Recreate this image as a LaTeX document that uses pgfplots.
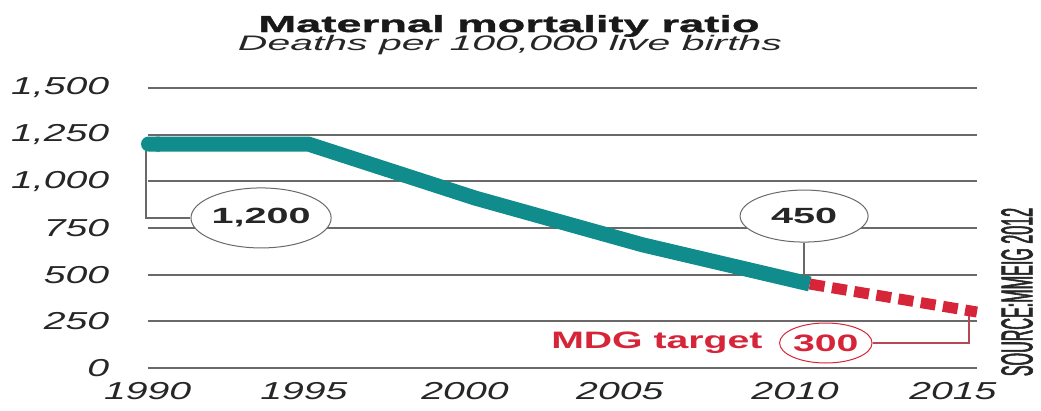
\documentclass[border=0pt]{standalone}
\usepackage{fontspec}
\usepackage{pgfplots}
\pgfplotsset{compat=1.18}
\usetikzlibrary{shapes.geometric,arrows.meta}
\setmainfont{Liberation Sans}
\newfontfamily\tickfont[FakeStretch=1.6]{Liberation Sans}
\newfontfamily\titlefont[FakeStretch=1.95, BoldFeatures={FakeBold=1.5}]{Liberation Sans}
\newfontfamily\notefont[FakeStretch=1.8]{Liberation Sans}
\newfontfamily\mdgfont[FakeStretch=1.65]{Liberation Sans}
\newfontfamily\srcfont[FakeStretch=0.36, FakeBold=1.2]{Liberation Sans}
\definecolor{teal1}{RGB}{16,140,140}
\definecolor{mdgred}{RGB}{214,36,56}
\definecolor{gridgray}{RGB}{105,105,105}

\begin{document}
\begin{tikzpicture}
\path[use as bounding box] (0,0) rectangle (416.4pt,-164pt);
\node[font=\titlefont\bfseries\fontsize{9.3}{10}\selectfont, anchor=base, text=black!90]
  at (203.6pt,-12.8pt) {Maternal mortality ratio};
\node[font=\titlefont\itshape\fontsize{8.4}{10}\selectfont, anchor=base, text=black!85]
  at (204pt,-20pt) {Deaths per 100,000 live births};

\begin{axis}[
    at={(59.08pt,-147.2pt)}, anchor=south west,
    scale only axis, width=331.7pt, height=112pt,
    xmin=1990.2, xmax=2015, ymin=0, ymax=1500,
    clip=false,
    axis line style={draw=none},
    tick style={draw=none},
    ymajorgrids=true,
    grid style={gridgray, line width=0.8pt},
    ticklabel style={font=\tickfont\itshape\fontsize{9.8}{10}\selectfont, text=black!85},
    yticklabel style={anchor=east, inner sep=0pt, xshift=-15.2pt},
    xticklabel style={anchor=north, inner sep=0pt, yshift=-5.6pt},
    ytick={0,250,500,750,1000,1250,1500},
    yticklabels={0,250,500,750,{1,000},{1,250},{1,500}},
    xtick={1990.2,1994.87,1999.69,2004.32,2009.56,2014.28},
    xticklabels={1990,1995,2000,2005,2010,2015},
]
% measured ratio
\addplot[teal1, line width=6pt, line join=round, {Round Cap[]}-] coordinates {
    (1990,1200) (1995,1200) (2000,910) (2005,660) (2010,450)
};
% MDG target path
\addplot[mdgred, line width=4.4pt, dash pattern=on 6pt off 3pt] coordinates {
    (2010,450) (2015,300)
};

\node[draw=gridgray, fill=white, ellipse, minimum width=50.8pt, minimum height=24pt,
      inner sep=0pt, font=\notefont\bfseries\fontsize{8.8}{10}\selectfont, text=black!85]
  (a) at (axis cs:1993.59,804) {1,200};
\draw[gridgray, line width=0.6pt] (axis cs:1990.15,1160) |- (a.west);

\node[draw=gridgray, fill=white, ellipse, minimum width=51.2pt, minimum height=20.8pt,
      inner sep=0pt, font=\notefont\bfseries\fontsize{8.8}{10}\selectfont, text=black!85]
  (b) at (axis cs:2009.83,814) {450};
\draw[gridgray, line width=0.6pt] (b.south) -- (axis cs:2009.83,490);

\node[anchor=east, inner sep=0pt, text=mdgred, font=\mdgfont\bfseries\fontsize{9.5}{10}\selectfont]
  at (axis cs:2008.6,134) {MDG target};
\node[draw=mdgred, fill=white, ellipse, minimum width=33.2pt, minimum height=16pt,
      inner sep=0pt, text=mdgred, font=\mdgfont\bfseries\fontsize{9.5}{10}\selectfont]
  (c) at (axis cs:2010.48,134) {300};
\draw[mdgred!60!gray, line width=0.6pt] (c.east) -| (axis cs:2014.76,280);
\end{axis}

\node[rotate=90, inner sep=0pt, font=\srcfont\fontsize{17.9}{18}\selectfont, text=black!85]
  at (406.8pt,-116.8pt) {SOURCE:MMEIG 2012};
\end{tikzpicture}
\end{document}
